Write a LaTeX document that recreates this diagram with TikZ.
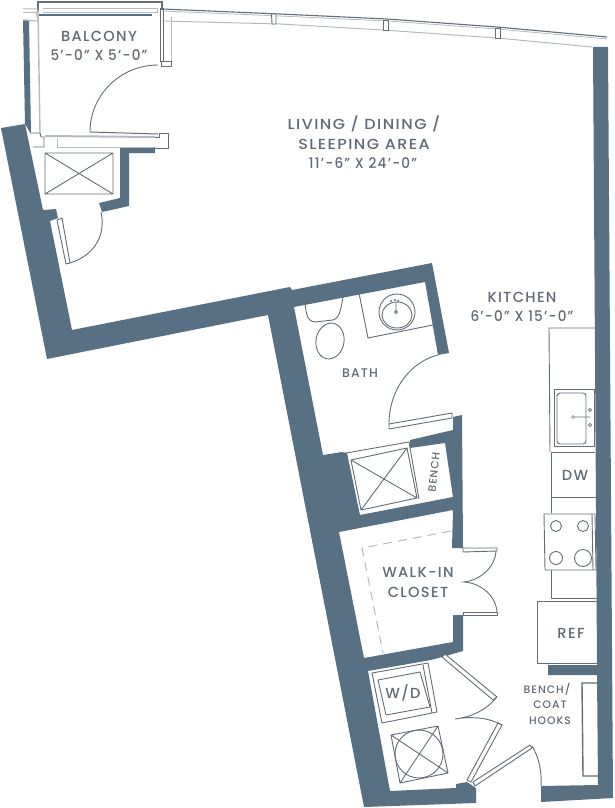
\documentclass[tikz,border=0pt]{standalone}
\usepackage{fontspec}
\setmainfont[LetterSpace=9]{Poppins Medium}
\definecolor{wall}{HTML}{587084}
\definecolor{ink}{HTML}{5F6A74}
\definecolor{ln}{HTML}{626D76}
\definecolor{lite}{HTML}{B4BABD}
\tikzset{
  wallfill/.style={fill=wall,draw=none},
  fix/.style={draw=ln,line width=0.9pt,line join=round},
  fixw/.style={draw=ln,line width=0.9pt,fill=white,line join=round},
  swing/.style={draw=ln,line width=0.9pt},
  litel/.style={draw=lite,line width=1pt},
  lab/.style={text=ink,font=\fontsize{14.6}{16}\selectfont,inner sep=0pt,align=center},
  labs/.style={text=ink,font=\fontsize{10.8}{16}\selectfont,inner sep=0pt,align=center},
  wide/.style={transform shape,xscale=1.09},
  narrow/.style={transform shape,xscale=.93},
}
\begin{document}
\begin{tikzpicture}[x=1pt,y=-1pt]
\useasboundingbox (0,0) rectangle (615,808);
% walls
\fill[wallfill] (1,128)--(25,124)--(43,210)--(56,209)--(58,218)--(50,221)--(72,330)--(290,287)--(292,290)--(432,263)--(449,353)--(438,355)--(425,282)--(294,307)--(323,455)--(342,452)--(347,453)--(360,515)--(453,497)--(445,443)--(410,448)--(410,440)--(453,430)--(453,417)--(462,415)--(463,548)--(452,548)--(453,510)--(339,532)--(364,658)--(453,642)--(453,615)--(463,615)--(463,651)--(442,657)--(431,660)--(368,671)--(390,791)--(456,788)--(456,784)--(467,782)--(476,788)--(476,803)--(364,807)--(268,315)--(47,359)--cycle;
\fill[wallfill] (593,47)--(608,47)--(613,798)--(541,802)--(541,786)--(598,785)--(597,675)--(548,675)--(548,665)--(597,665)--cycle;
\fill[wallfill] (23,20)--(29,20)--(31,134)--(25,124)--cycle;
\fill[wallfill] (120,147)--(155,147)--(155,153)--(129,153)--(129,206)--(102,212)--(99,203)--(120,198)--cycle;
% balcony
\draw[draw=ln,line width=1.2pt] (38,12)--(38,2)--(162,2)--(162,10);
\draw[litel,line width=1.4pt] (38,10)--(40,133);
\draw[litel,line width=1pt] (36,12)--(38,20);
\draw[draw=wall,line width=2.4pt] (39,15)--(152,15);
\draw[litel] (43,9)--(157,9)--(157,13)--(43,13);
\draw[litel] (23,9)--(38,9) (23,12.5)--(38,12.5) (23,20)--(38,21);
\draw[fix] (160,8)--(160,62) (163,8)--(163,62);
\draw[litel] (171,17)--(171,62);
\draw[fixw] (161,61)rectangle(171,66);
\draw[draw=ln,line width=1pt] (90,132)--(158,134);
\draw[swing] (90,132) arc[start angle=180,end angle=270,x radius=68,y radius=67];
\draw[draw=lite,line width=2pt] (45,136)--(155,137);
\draw[litel] (57,138)--(57,147)--(154,147);
\draw[fix] (31,133)--(40,133)--(41,137)--(44,137)--(44,147)--(33,147);
\draw[fix] (155,137)--(159,137)--(159,133)--(168,133)--(168,148)--(155,148);
% shaft
\draw[fix] (45,153)rectangle(113,194) (45,153)--(113,194) (113,153)--(45,194);
% entry door to balcony side
\draw[fix] (57,220)--(62,218)--(70,263)--(66,264)--cycle;
\draw[swing] (70,263) .. controls (95,255) and (106,235) .. (101,212);
% curved window line
\draw[draw=ln,line width=1.1pt] (162,9)--(280,14)--(387,19)--(497,27)--(607,37);
\draw[draw=lite,line width=0.8pt] (162,11)--(280,16)--(387,21)--(497,29)--(607,39);
\draw[draw=lite,line width=1pt] (162,21)--(280,24)--(383,30)--(497,38)--(592,47);
\draw[fixw] (271.5,14)--(276,14)--(276,24)--(272,24)--cycle;
\draw[fixw] (383,20)--(388,20)--(388,30.5)--(383,30.5)--cycle;
\draw[fixw] (495,28)--(500,28)--(500,38)--(495,38)--cycle;
% bath
\draw[fix] (305,300).. controls (306,312) and (306,321) .. (315,322)--(333,320).. controls (340,318) and (341,308) .. (343,297);
\draw[fix,fill=white] (330,341) ellipse[x radius=14,y radius=18,rotate=-10];
\draw[fix] (359,293)--(368,338)--(433,325);
\draw[fix] (397,312) circle[radius=18];
\draw[fix] (397,315) ellipse[x radius=15,y radius=13];
\draw[fix] (396,312) circle[radius=1.6];
\draw[fix,line width=0.6pt] (391,301) circle[radius=.7] (395,300) circle[radius=.7] (398,301) circle[radius=.7] (396,303)--(396,310);
\draw[fixw] (389,424)--(452,413)--(452,418)--(389,429)--cycle;
\draw[swing] (389,424) .. controls (389,390) and (410,362) .. (438,355);
% shower
\draw[fix] (346,453)--(409,442)--(419,499);
\draw[fix] (351,460)--(407,448)--(417,498)--(361,510)--cycle (351,460)--(417,498) (407,448)--(361,510);
% kitchen
\draw[fix] (595,328)--(549,328)--(550,452);
\draw[fix] (554,389)rectangle(594,446);
\draw[fix,rounded corners=3pt] (557,393)rectangle(586,444);
\draw[fix,line width=0.6pt] (573,417) circle[radius=1.5] (574.5,417)--(590,417) (590,410) circle[radius=1.6] (590,425) circle[radius=1.6];
\draw[fix] (551,452)--(595,452) (551,452)--(551,513) (551,497)--(596,497);
\draw[fix] (544,514)--(595,514)--(596,570)--(545,570)--cycle (592,514)--(593,570);
\draw[fix] (556,526) circle[radius=5.5] (583,526) circle[radius=5.5] (556,558) circle[radius=6.5] (583,558) circle[radius=8.5];
\draw[fix] (551,570)--(551,598)--(597,598);
\draw[fix] (597,601)--(537,601)--(537,663)--(597,663);
\draw[draw=ln,line width=1.4pt] (598,683)--(582,683)--(583,776)--(598,776);
% closet
\draw[fixw] (463,548)--(497,548)--(497,551)--(463,552)--cycle;
\draw[fixw] (463,612)--(497,612)--(497,615)--(463,615)--cycle;
\draw[swing] (496,551) .. controls (495,567) and (481,580) .. (464,582) .. controls (481,583) and (496,596) .. (497,612);
\draw[draw=lite,line width=1pt,dash pattern=on 9pt off 6pt] (451,531)--(362,548)--(383,653);
% laundry
\draw[fix] (372,673)--(428,663)--(437,712)--(382,723)--cycle (423,665)--(432,713);
\draw[fix] (378,680)--(420,672)--(430,707)--(386,715)--cycle;
\draw[fix] (391,735)--(438,726)--(448,773)--(400,783)--cycle (391,735)--(448,773) (438,726)--(400,783);
\draw[fix] (419,754) circle[radius=24];
\draw[fixw] (442,657)--(445,654)--(497,697)--(493,700)--cycle;
\draw[fixw] (498,723)--(502,725)--(471,782)--(467,780)--cycle;
\draw[fixw] (473,782)--(530,745)--(532,748)--(475,786)--cycle;
\draw[swing] (496,698) .. controls (486,710) and (472,717) .. (455,719) .. controls (472,716) and (490,718) .. (502,725);
\draw[swing] (532,746) .. controls (539,757) and (542,772) .. (541,786);
% labels
\node[lab] (balcony) at (99,36) {BALCONY};
\node[lab,narrow] (balconysize) at (99,55) {5'-0" X 5'-0"};
\node[lab,wide] (living) at (364,124) {LIVING / DINING /};
\node[lab,wide] (sleeping) at (364,144) {SLEEPING AREA};
\node[lab,narrow] (livingsize) at (363,163) {11'-6" X 24'-0"};
\node[lab] (kitchen) at (522,297) {KITCHEN};
\node[lab,narrow] (kitchensize) at (522,316) {6'-0" X 15'-0"};
\node[labs,font=\fontsize{12.5}{15}\selectfont] (bath) at (360,373) {BATH};
\node[labs,rotate=84] (bench) at (434,472) {BENCH};
\node[lab] (dw) at (575,475) {DW};
\node[lab] (walkin) at (418,572) {WALK-IN};
\node[lab] (closet) at (418,592) {CLOSET};
\node[lab] (wd) at (403,693) {W/D};
\node[lab] (ref) at (571,633) {REF};
\node[labs] (benchcoat) at (547,689) {BENCH/};
\node[labs] (coat) at (550,705) {COAT};
\node[labs] (hooks) at (550,721) {HOOKS};
\end{tikzpicture}
\end{document}
